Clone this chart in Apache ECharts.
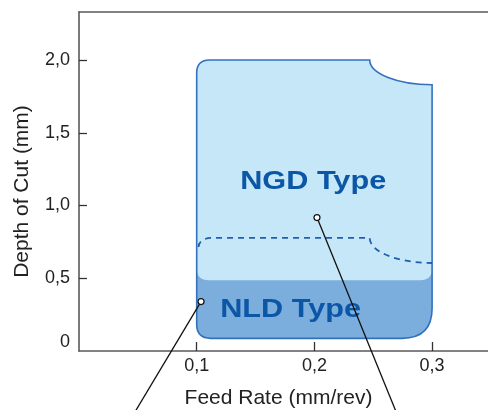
<!DOCTYPE html>
<html>
<head>
<meta charset="utf-8">
<script src="https://cdn.jsdelivr.net/npm/echarts@6/dist/echarts.min.js"></script>
<style>
html,body{margin:0;padding:0;background:#fff;}
#chart{width:488px;height:410px;}
</style>
</head>
<body>
<div id="chart"></div>
<script>
// ---- data ----
const feedTicks = [0.1, 0.2, 0.3];
const feedTickLabels = ['0,1', '0,2', '0,3'];
const depthTicks = [0, 0.5, 1.0, 1.5, 2.0];
const depthTickLabels = ['0', '0,5', '1,0', '1,5', '2,0'];
const xName = 'Feed Rate (mm/rev)';
const yName = 'Depth of Cut (mm)';
// NGD region corners: top-left, notch start, notch end, bottom-right, bottom-left
const ngdOutline = [[0.1, 2.0], [0.247, 2.0], [0.3, 1.83], [0.3, 0.486], [0.1, 0.486]];
// NLD region: top-left, top-right, bottom-right, bottom-left
const nldOutline = [[0.1, 0.62], [0.3, 0.62], [0.3, 0.087], [0.1, 0.087]];
// dashed boundary
const dashedBoundary = [[0.1015, 0.715], [0.112, 0.777], [0.247, 0.777], [0.3, 0.605]];
// region labels
const regionNames = ['NGD Type', 'NLD Type'];
const regionLabelPos = [[0.199, 1.163], [0.1798, 0.28]];
// callout lines: [from, to]
const callouts = [[[0.1037, 0.34], [0.0482, -0.41]], [[0.2022, 0.917], [0.269, -0.41]]];

const FONT = '"Liberation Sans", Arial, Helvetica, sans-serif';
const BORDER = '#3371BD';
const AXIS = '#5a5a5a';

function quarter(a, b) {
  // quarter-ellipse from a to b; starts vertical, ends horizontal
  const k = 0.552;
  const dx = b[0] - a[0], dy = b[1] - a[1];
  return 'C' + a[0] + ',' + (a[1] + k * dy) + ' ' + (b[0] - k * dx) + ',' + b[1] + ' ' + b[0] + ',' + b[1];
}

function renderShapes(params, api) {
  const c = p => api.coord(p);
  const g = ngdOutline.map(c);
  const n = nldOutline.map(c);
  const r1 = 13, r2 = 12, r3 = 14, r4 = 30;
  const nldPath =
    'M' + n[0][0] + ',' + n[0][1] +
    ' L' + n[1][0] + ',' + n[1][1] +
    ' L' + n[2][0] + ',' + (n[2][1] - r4) +
    ' Q' + n[2][0] + ',' + n[2][1] + ' ' + (n[2][0] - r4) + ',' + n[2][1] +
    ' L' + (n[3][0] + r3) + ',' + n[3][1] +
    ' Q' + n[3][0] + ',' + n[3][1] + ' ' + n[3][0] + ',' + (n[3][1] - r3) + ' Z';
  const ngdPath =
    'M' + g[0][0] + ',' + (g[0][1] + r1) +
    ' Q' + g[0][0] + ',' + g[0][1] + ' ' + (g[0][0] + r1) + ',' + g[0][1] +
    ' L' + g[1][0] + ',' + g[1][1] + ' ' + quarter(g[1], g[2]) +
    ' L' + g[3][0] + ',' + (g[3][1] - r2) +
    ' Q' + g[3][0] + ',' + g[3][1] + ' ' + (g[3][0] - r2) + ',' + g[3][1] +
    ' L' + (g[4][0] + r2) + ',' + g[4][1] +
    ' Q' + g[4][0] + ',' + g[4][1] + ' ' + g[4][0] + ',' + (g[4][1] - r2) + ' Z';
  const outline =
    'M' + g[0][0] + ',' + (g[0][1] + r1) +
    ' Q' + g[0][0] + ',' + g[0][1] + ' ' + (g[0][0] + r1) + ',' + g[0][1] +
    ' L' + g[1][0] + ',' + g[1][1] + ' ' + quarter(g[1], g[2]) +
    ' L' + n[2][0] + ',' + (n[2][1] - r4) +
    ' Q' + n[2][0] + ',' + n[2][1] + ' ' + (n[2][0] - r4) + ',' + n[2][1] +
    ' L' + (n[3][0] + r3) + ',' + n[3][1] +
    ' Q' + n[3][0] + ',' + n[3][1] + ' ' + n[3][0] + ',' + (n[3][1] - r3) + ' Z';
  const d = dashedBoundary.map(c);
  const dashPath = 'M' + d[0][0] + ',' + d[0][1] + ' ' + quarter(d[0], d[1]) +
    ' L' + d[2][0] + ',' + d[2][1] + ' ' + quarter(d[2], d[3]);
  const children = [
    {type: 'path', shape: {pathData: nldPath}, style: {fill: '#7BAEDD', stroke: null}},
    {type: 'path', shape: {pathData: ngdPath}, style: {fill: '#C6E7F8', stroke: null}},
    {type: 'path', shape: {pathData: outline}, style: {fill: null, stroke: BORDER, lineWidth: 1.6}},
    {type: 'path', shape: {pathData: dashPath}, style: {fill: null, stroke: '#1F5FAE', lineWidth: 1.8, lineDash: [6, 5]}}
  ];
  regionNames.forEach((t, i) => {
    const p = c(regionLabelPos[i]);
    children.push({type: 'text', x: p[0], y: p[1], scaleX: 1.18, scaleY: 1,
      style: {text: t, fill: '#0C56A6', font: 'bold 26px ' + FONT, align: 'center', verticalAlign: 'middle'}});
  });
  callouts.forEach(cl => {
    const a = c(cl[0]), b = c(cl[1]);
    const dx = b[0] - a[0], dy = b[1] - a[1], L = Math.hypot(dx, dy), rr = 3;
    children.push({type: 'line', shape: {x1: a[0] + dx / L * rr, y1: a[1] + dy / L * rr, x2: b[0], y2: b[1]}, style: {stroke: '#111', lineWidth: 1.3}});
    children.push({type: 'circle', shape: {cx: a[0], cy: a[1], r: rr}, style: {fill: '#fff', stroke: '#111', lineWidth: 1.2}});
  });
  return {type: 'group', children: children};
}

const chart = echarts.init(document.getElementById('chart'), null, {renderer: 'canvas'});
chart.setOption({
  animation: false,
  grid: {left: 79, top: 12, right: 0, bottom: 59, containLabel: false, outerBoundsMode: 'none'},
  xAxis: [{
    type: 'value', min: 0, max: 0.3475,
    axisLine: {show: true, onZero: false, lineStyle: {color: AXIS, width: 1.6}},
    splitLine: {show: false},
    axisTick: {show: true, inside: true, length: 9, customValues: feedTicks, lineStyle: {color: '#333', width: 1.3}},
    axisLabel: {
      fontSize: 18, color: '#222', fontFamily: FONT, margin: 6,
      customValues: feedTicks,
      formatter: v => { const i = feedTicks.findIndex(t => Math.abs(t - v) < 1e-6); return i >= 0 ? feedTickLabels[i] : ''; }
    },
    name: xName, nameLocation: 'middle', nameGap: 37,
    nameTextStyle: {fontSize: 21, color: '#222', fontFamily: FONT, padding: [0, 10, 0, 0]}
  }, {
    type: 'value', position: 'top', min: 0, max: 0.3475,
    axisLine: {show: true, onZero: false, lineStyle: {color: AXIS, width: 1.6}},
    axisTick: {show: false}, axisLabel: {show: false}, splitLine: {show: false}
  }],
  yAxis: {
    type: 'value', min: 0, max: 2.33,
    axisLine: {show: true, onZero: false, lineStyle: {color: AXIS, width: 1.6}},
    splitLine: {show: false},
    axisTick: {show: true, inside: true, length: 8, customValues: depthTicks.slice(1), lineStyle: {color: '#333', width: 1.3}},
    axisLabel: {
      fontSize: 18, color: '#222', fontFamily: FONT, margin: 9,
      customValues: depthTicks,
      formatter: v => {
        const i = depthTicks.findIndex(t => Math.abs(t - v) < 1e-6);
        if (i < 0) return '';
        return i === 0 ? '{z|' + depthTickLabels[i] + '}' : depthTickLabels[i];
      },
      rich: {z: {fontSize: 18, color: '#222', fontFamily: FONT, padding: [0, 0, 18, 0]}}
    },
    name: yName, nameLocation: 'middle', nameGap: 46, nameRotate: 90,
    nameTextStyle: {fontSize: 21, color: '#222', fontFamily: FONT, padding: [0, 20, 0, 0]}
  },
  series: [{
    type: 'custom', clip: false, silent: true,
    xAxisIndex: 0, yAxisIndex: 0,
    data: [[0, 0]],
    renderItem: renderShapes
  }]
});
</script>
</body>
</html>
